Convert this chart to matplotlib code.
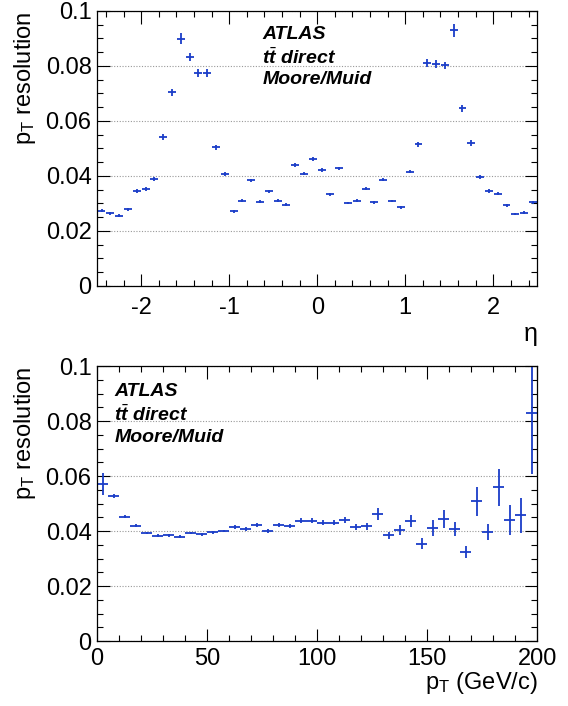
import numpy as np
import matplotlib
matplotlib.use("Agg")
import matplotlib.pyplot as plt
from matplotlib.ticker import MultipleLocator, FixedLocator

plt.rcParams['font.family'] = ['Liberation Sans', 'DejaVu Sans']
plt.rcParams['mathtext.fontset'] = 'custom'
plt.rcParams['mathtext.rm'] = 'Liberation Sans'
plt.rcParams['mathtext.it'] = 'Liberation Sans:italic:bold'
plt.rcParams['axes.unicode_minus'] = False

# resolution vs eta, 50 bins from -2.5 to 2.5
eta_edges = (-2.5, 2.5)
eta_res = [0.0273, 0.0264, 0.0255, 0.0279, 0.0345, 0.0353, 0.0389, 0.0541, 0.0704, 0.0899,
           0.0832, 0.0773, 0.0773, 0.0504, 0.0408, 0.0272, 0.0310, 0.0384, 0.0307, 0.0344,
           0.0310, 0.0296, 0.0440, 0.0408, 0.0461, 0.0422, 0.0333, 0.0428, 0.0302, 0.0310,
           0.0354, 0.0304, 0.0387, 0.0309, 0.0286, 0.0416, 0.0516, 0.0810, 0.0808, 0.0802,
           0.0930, 0.0646, 0.0519, 0.0395, 0.0345, 0.0335, 0.0293, 0.0262, 0.0267, 0.0304]
eta_err = [0.0005, 0.0005, 0.0005, 0.0005, 0.0006, 0.0006, 0.0007, 0.0010, 0.0013, 0.0020,
           0.0014, 0.0015, 0.0015, 0.0009, 0.0007, 0.0005, 0.0005, 0.0006, 0.0005, 0.0005,
           0.0005, 0.0005, 0.0006, 0.0005, 0.0007, 0.0006, 0.0005, 0.0005, 0.0005, 0.0005,
           0.0005, 0.0005, 0.0005, 0.0005, 0.0005, 0.0006, 0.0009, 0.0015, 0.0014, 0.0014,
           0.0024, 0.0013, 0.0010, 0.0007, 0.0006, 0.0006, 0.0005, 0.0005, 0.0005, 0.0006]

# resolution vs pT, 40 bins from 0 to 200 GeV
pt_edges = (0, 200)
pt_res = [0.0571, 0.0526, 0.0452, 0.0419, 0.0393, 0.0383, 0.0385, 0.0379, 0.0393, 0.0388,
          0.0395, 0.0400, 0.0415, 0.0408, 0.0422, 0.0400, 0.0422, 0.0417, 0.0438, 0.0438,
          0.0431, 0.0431, 0.0439, 0.0415, 0.0417, 0.0462, 0.0384, 0.0405, 0.0435, 0.0354,
          0.0411, 0.0444, 0.0407, 0.0324, 0.0508, 0.0396, 0.0559, 0.0439, 0.0458, 0.0829]
pt_err = [0.0041, 0.0007, 0.0006, 0.0005, 0.0005, 0.0005, 0.0005, 0.0005, 0.0005, 0.0005,
          0.0005, 0.0005, 0.0006, 0.0006, 0.0006, 0.0006, 0.0007, 0.0007, 0.0009, 0.0009,
          0.0010, 0.0010, 0.0011, 0.0011, 0.0012, 0.0022, 0.0012, 0.0018, 0.0022, 0.0021,
          0.0029, 0.0032, 0.0026, 0.0021, 0.0053, 0.0030, 0.0068, 0.0054, 0.0064, 0.0222]

y_ticks = [0, 0.02, 0.04, 0.06, 0.08, 0.1]
y_labels = ["0", "0.02", "0.04", "0.06", "0.08", "0.1"]
labels = ["ATLAS", r"$t\bar{t}$ direct", "Moore/Muid"]

blue = '#1a3dc8'


def bin_centres(lo, hi, n):
    w = (hi - lo) / n
    return lo + w * (np.arange(n) + 0.5), w


def style_axes(ax):
    ax.set_ylim(0, 0.1)
    ax.yaxis.set_major_locator(FixedLocator(y_ticks))
    ax.set_yticklabels(y_labels)
    ax.yaxis.set_minor_locator(MultipleLocator(0.005))
    ax.tick_params(which='both', direction='in', top=True, right=True, labelsize=17)
    ax.tick_params(which='major', length=9, width=0.8)
    ax.tick_params(which='minor', length=4.5, width=0.8)
    ax.tick_params(axis='y', pad=4)
    ax.grid(axis='y', which='major', color='#999999', linestyle=(0, (1, 1.5)), linewidth=0.8)
    for s in ax.spines.values():
        s.set_linewidth(0.9)
    ax.set_ylabel(r"p$_\mathrm{T}$ resolution", fontsize=17, loc='top')


fig = plt.figure(figsize=(5.68, 7.06), dpi=100)
ax1 = fig.add_axes([0.171, 0.595, 0.775, 0.3895])
ax2 = fig.add_axes([0.171, 0.092, 0.775, 0.3895])

# top: eta
x, w = bin_centres(eta_edges[0], eta_edges[1], len(eta_res))
ax1.errorbar(x, eta_res, yerr=eta_err, xerr=w * 0.45, fmt='none', ecolor=blue,
             elinewidth=1.3, capsize=0)
ax1.set_xlim(*eta_edges)
ax1.xaxis.set_major_locator(MultipleLocator(1))
ax1.xaxis.set_minor_locator(MultipleLocator(0.2))
style_axes(ax1)
ax1.tick_params(axis='x', pad=8)
ax1.set_xlabel("\u03b7", fontsize=18, loc='right', labelpad=2)
ax1.yaxis.set_label_coords(-0.135, 1.0)
for i, t in enumerate(labels):
    ax1.text(0.375, 0.913 - i * 0.082, t, transform=ax1.transAxes, fontsize=14,
             fontweight='bold', fontstyle='italic', va='center', ha='left')

# bottom: pT
x, w = bin_centres(pt_edges[0], pt_edges[1], len(pt_res))
ax2.errorbar(x, pt_res, yerr=pt_err, xerr=w * 0.5, fmt='none', ecolor=blue,
             elinewidth=1.3, capsize=0)
ax2.set_xlim(*pt_edges)
ax2.xaxis.set_major_locator(MultipleLocator(50))
ax2.xaxis.set_minor_locator(MultipleLocator(10))
style_axes(ax2)
ax2.tick_params(axis='x', pad=5)
ax2.set_xlabel(r"p$_\mathrm{T}$ (GeV/c)", fontsize=17, loc='right', labelpad=0)
ax2.yaxis.set_label_coords(-0.135, 1.0)
for i, t in enumerate(labels):
    ax2.text(0.039, 0.908 - i * 0.083, t, transform=ax2.transAxes, fontsize=14,
             fontweight='bold', fontstyle='italic', va='center', ha='left')

fig.savefig("out.png", dpi=100)
